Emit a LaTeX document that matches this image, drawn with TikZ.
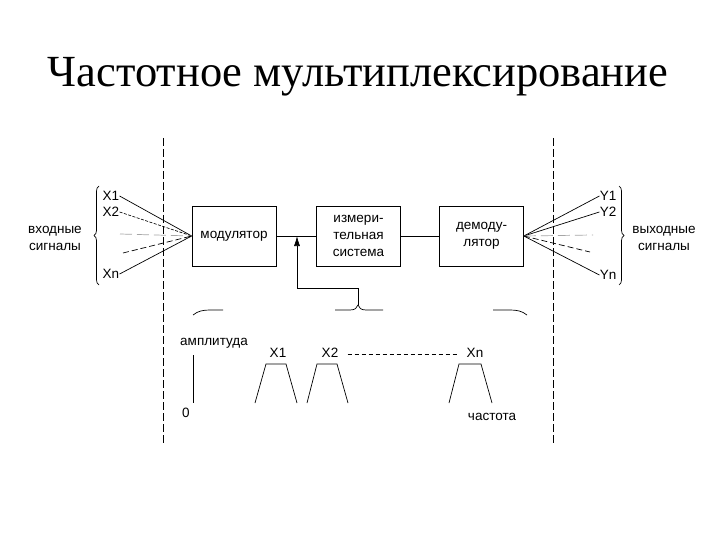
\documentclass[tikz,border=0pt]{standalone}
\usepackage{fontspec}
\setmainfont{Liberation Serif}
\newfontfamily\arial{Liberation Sans}
\usetikzlibrary{arrows.meta,decorations.pathreplacing}
\begin{document}
\begin{tikzpicture}[x=1pt,y=-1pt, line width=0.7pt,
  lbl/.style={font=\arial\fontsize{13.5}{17}\selectfont, inner sep=0pt, align=center},
  blk/.style={draw, minimum width=84pt, minimum height=60pt, inner sep=0pt, align=center, font=\arial\fontsize{13.5}{17}\selectfont},
  vdash/.style={dash pattern=on 8pt off 3pt, line width=0.8pt},
  fine/.style={dash pattern=on 3pt off 1.5pt},
  grayd/.style={draw=gray!70, dash pattern=on 12pt off 5pt},
  darkd/.style={dash pattern=on 6pt off 3pt},
  spdash/.style={dash pattern=on 4pt off 3pt},
  bracestyle/.style={decorate, decoration={brace, amplitude=5pt}}]
\useasboundingbox[fill=white] (0,0) rectangle (720,540);

% title
\node[font=\fontsize{44.5}{50}\selectfont, anchor=base, inner sep=0pt] (title) at (358,87) {Частотное мультиплексирование};

% vertical dashed lines
\draw[vdash] (163,138) -- (163,445);
\draw[vdash] (553,138) -- (553,445);

% blocks
\node[blk] (mod) at (234,236) {модулятор};
\node[blk] (sys) at (358.5,236) {измери-\\тельная\\система};
\node[blk] (dem) at (481.5,236) {демоду-\\лятор};
\draw (mod) -- (sys);
\draw (sys) -- (dem);

% feedback arrow
\coordinate (fb) at (297,236);
\coordinate (corner) at (297,288);
\coordinate (bt) at (358,305);
\draw[-{Latex[length=10pt,width=6pt]}] (bt) |- (corner) -- (fb);

% bottom brace pieces
\draw (193,315) .. controls (198,311) and (203,310) .. (210,310) -- (223,310);
\draw (335,310) -- (350,310) .. controls (355,310) and (357,308) .. (bt) .. controls (359,308) and (361,310) .. (366,310) -- (383,310);
\draw (493,310) -- (510,310) .. controls (517,310) and (522,311) .. (527,315);

% input side
\node[lbl] (x1) at (111,196) {X1};
\node[lbl] (x2) at (111,212) {X2};
\node[lbl] (xn) at (111,274) {Xn};
\coordinate (xg) at (120,234);
\coordinate (xd) at (123,253);
\draw (x1.east) -- (mod.west);
\draw[fine] (x2.east) -- (mod.west);
\draw[grayd] (xg) -- (mod.west);
\draw[darkd] (xd) -- (mod.west);
\draw (xn.east) -- (mod.west);
\draw[bracestyle] (99,285) -- (99,186);
\node[lbl] (inl) at (55,238) {входные\\сигналы};

% output side
\node[lbl] (y1) at (608,196) {Y1};
\node[lbl] (y2) at (608,212) {Y2};
\node[lbl] (yn) at (608,275) {Yn};
\coordinate (yg) at (593,235);
\coordinate (yd) at (590,252);
\draw (dem.east) -- (y1.west);
\draw (dem.east) -- (y2.west);
\draw[grayd] (dem.east) -- (yg);
\draw[darkd] (dem.east) -- (yd);
\draw (dem.east) -- (yn.west);
\draw[bracestyle] (619,186) -- (619,285);
\node[lbl] (outl) at (664,238) {выходные\\сигналы};

% spectrum
\node[lbl] (amp) at (214,343) {амплитуда};
\draw (193,355) -- (193,403);
\node[lbl] (zero) at (186,413) {0};
\node[lbl] (freq) at (492,417) {частота};
\draw (255,403) -- (266,364) -- (286,364) -- (297,403);
\draw (307,403) -- (317,364) -- (337,364) -- (348,403);
\draw (449,403) -- (459,364) -- (481,364) -- (492,403);
\node[lbl] (sx1) at (278,353) {X1};
\node[lbl] (sx2) at (330,353) {X2};
\node[lbl] (sxn) at (475,353) {Xn};
\path (sx2.east) ++(9,1) coordinate (da) (sxn.west) ++(-9,1) coordinate (db);
\draw[spdash] (da) -- (db);
\end{tikzpicture}
\end{document}
